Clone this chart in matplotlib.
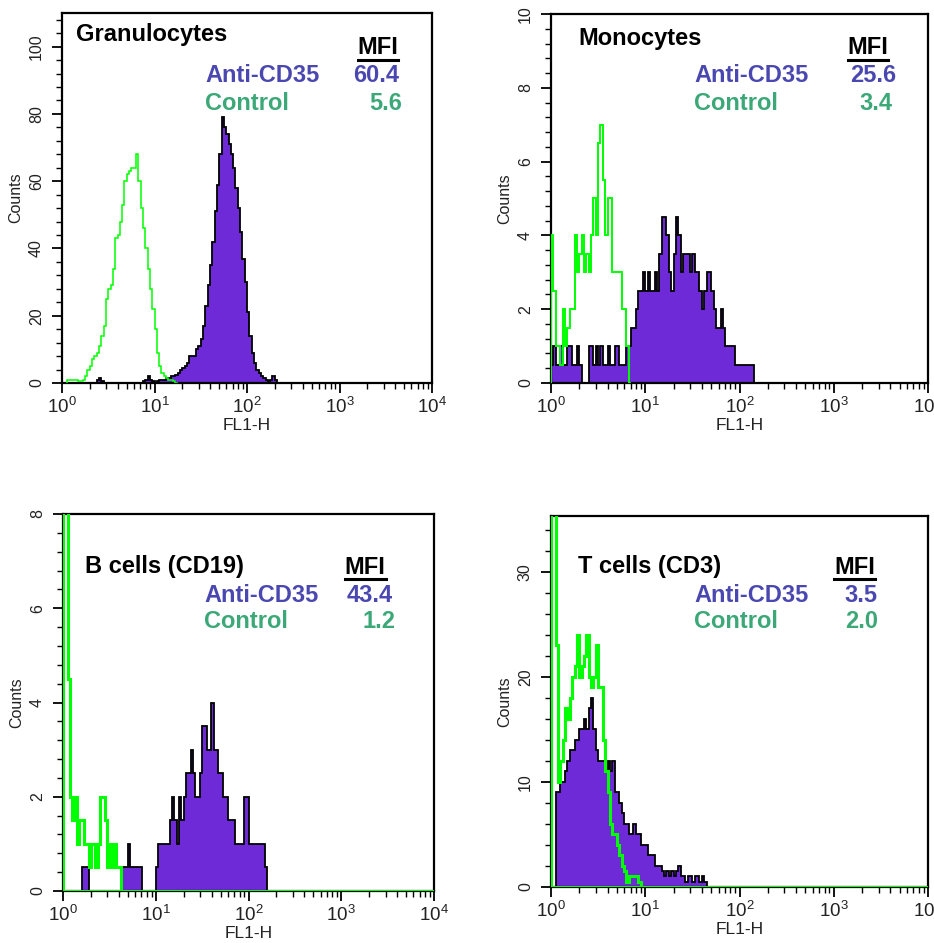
import numpy as np
import matplotlib.pyplot as plt
from matplotlib.lines import Line2D
from matplotlib.ticker import LogLocator, MultipleLocator, NullFormatter

plt.rcParams['font.family'] = ['Liberation Sans', 'DejaVu Sans']
plt.rcParams['mathtext.fontset'] = 'custom'
plt.rcParams['mathtext.rm'] = 'Liberation Sans'
plt.rcParams['mathtext.it'] = 'Liberation Sans'

STEP = 0.025  # channel width in decades of FL1-H

# Granulocytes
gran_ctrl_start = 0.05
gran_ctrl = [1, 1, 1, 1, 1, 0.5, 0.5, 1, 2, 4, 5, 7, 8, 9, 11, 14, 17, 25, 28, 29,
             34, 43, 44, 48, 53, 60, 62, 63, 64, 64, 68, 60, 52, 46, 40, 34, 28, 22, 16, 9,
             5, 3, 2, 1.5, 1, 1, 0.5, 0]
gran_cd35_start = 0.375
gran_cd35 = [1, 1.5, 0.5, 0, 0, 0, 0, 0, 0, 0, 0, 0, 0, 0, 0, 0, 0, 0, 0, 0,
             0.5, 1, 2, 1, 0.5, 0, 0.5, 1, 1, 1, 1.5, 1.5, 2, 2, 2.5, 3, 4, 4.5, 5, 6,
             8, 8, 8, 10, 11, 13, 17, 23, 29, 35, 42, 51, 59, 68, 79, 76, 74, 71, 68, 64,
             58, 52, 45, 37, 30, 21, 14, 9, 6, 4, 3, 2, 1.5, 1, 0.5, 1, 2, 1, 0]

# Monocytes
mono_ctrl_start = 0.0
mono_ctrl = [4, 2.5, 1, 1, 0.5, 2, 1, 1.5, 2, 2, 4, 3, 3.5, 4, 3, 3.5, 3, 4, 5, 4,
             6.5, 7, 5.5, 4, 5, 5, 3, 3, 3, 3, 2, 2, 1, 0]
mono_cd35_start = 0.0
mono_cd35 = [0.5, 1, 0.5, 0.5, 1, 0.5, 0.5, 1, 1, 0.5, 0.5, 1, 0.5, 0, 0, 0, 1, 1, 0.5, 1,
             0.5, 1, 0.5, 0.5, 1, 0.5, 0.5, 1, 1, 0.5, 0.5, 0.5, 1, 1, 1.5, 1.5, 2, 2.5, 2.5, 3,
             2.5, 3, 2.5, 2.5, 3, 2.5, 3.5, 4.5, 4.5, 4, 3, 2.5, 3.5, 4.5, 4, 3, 3.5, 3.5, 3.5, 3,
             3.5, 3, 3, 2.5, 2, 2.5, 3, 3, 2.5, 2, 1.5, 1.5, 2, 1.5, 1, 1, 1, 1, 0.5, 0.5,
             0.5, 0.5, 0.5, 0.5, 0.5, 0.5, 0]

# B cells (CD19)
bcell_ctrl_start = 0.0
bcell_ctrl = [12, 10, 4.5, 2, 1.5, 2, 1, 1.5, 1.5, 1, 1, 0.5, 1, 1, 0.5, 1, 2, 2, 1.5, 0.5,
              1, 0.5, 1, 0.5, 0.5, 0]
bcell_cd35_start = 0.2
bcell_cd35 = [0.5, 0.5, 0.5, 0, 0, 0, 0, 0, 0, 0, 0, 0, 0, 0, 0, 0, 0, 0.5, 0.5, 0.5,
              1, 0.5, 0.5, 0.5, 0.5, 0.5, 0, 0, 0, 0, 0, 0, 0.5, 1, 1, 1, 1, 1, 1.5, 2,
              1.5, 1, 2, 1.5, 2, 2.5, 2.5, 3, 2.5, 2, 2, 2.5, 3.5, 3.5, 3, 3, 4, 3, 3, 2.5,
              2.5, 2, 2, 1.5, 1.5, 1.5, 1, 1, 1, 1, 2, 2, 1, 1, 1, 1, 1, 1, 1, 0.5, 0]

# T cells (CD3)
tcell_ctrl_start = 0.0
tcell_ctrl = [40, 40, 23, 10, 12, 14, 17, 16, 18, 20, 21, 24, 20, 21, 22, 24, 20, 19, 20, 23,
              19, 19, 14, 11, 9, 6, 5, 5, 4, 3, 2, 1.5, 0.5, 1, 1, 1, 1, 0.5, 0]
tcell_cd35_start = 0.05
tcell_cd35 = [9, 9, 10, 10, 11, 12, 13, 13, 14, 14, 15, 15, 16, 15, 17, 18, 15, 13, 12, 12,
              12, 11, 12, 11, 12, 9, 9, 8, 7, 6, 6, 5, 5, 6, 5, 5, 4, 4, 4, 3,
              3, 3, 2, 2, 2, 1.5, 1, 1.5, 1, 1.5, 1, 1.5, 2, 1, 1, 0.5, 1, 1, 0.5, 1,
              1, 0.5, 1, 0.5, 0]

titles = ['Granulocytes', 'Monocytes', 'B cells (CD19)', 'T cells (CD3)']
mfi_cd35 = ['60.4', '25.6', '43.4', '3.5']
mfi_ctrl = ['5.6', '3.4', '1.2', '2.0']

FILL = '#6e2ad6'
LINE_GREEN = '#00ff00'
TXT_PURPLE = '#4a48b0'
TXT_GREEN = '#3ca878'

W, H = 934, 943
fig = plt.figure(figsize=(W / 100, H / 100), dpi=100)


def px_axes(l, t, r, b):
    return fig.add_axes([l / W, 1 - b / H, (r - l) / W, (b - t) / H])


def edges(start, counts):
    return 10 ** (start + STEP * np.arange(len(counts) + 1))


panels = [
    dict(box=(62, 13, 432, 383), ymax=110, major=20, minor=4,
         ctrl=(gran_ctrl_start, gran_ctrl), cd35=(gran_cd35_start, gran_cd35), glw=1.1, base=False),
    dict(box=(551, 14, 928, 383), ymax=10, major=2, minor=0.4,
         ctrl=(mono_ctrl_start, mono_ctrl), cd35=(mono_cd35_start, mono_cd35), glw=1.4, base=False),
    dict(box=(63, 514, 434, 891), ymax=8, major=2, minor=0.4,
         ctrl=(bcell_ctrl_start, bcell_ctrl), cd35=(bcell_cd35_start, bcell_cd35), glw=2.2, base=True),
    dict(box=(551, 516, 928, 887), ymax=35.3, major=10, minor=2,
         ctrl=(tcell_ctrl_start, tcell_ctrl), cd35=(tcell_cd35_start, tcell_cd35), glw=2.2, base=True),
]

for p in panels:
    ax = px_axes(*p['box'])
    s, c = p['cd35']
    e = edges(s, c)
    ax.stairs(c, e, fill=True, color=FILL, lw=0, zorder=2)
    ax.stairs(c, e, color='black', lw=1.3, zorder=3)
    s, c = p['ctrl']
    ax.stairs(c, edges(s, c), color=LINE_GREEN, lw=p['glw'], zorder=4)
    if p['base']:
        ax.axhline(0, color=LINE_GREEN, lw=2.2, zorder=5)

    ax.set_xscale('log')
    ax.set_xlim(1, 1e4)
    ax.set_ylim(0, p['ymax'])
    ax.set_xticks([1, 10, 100, 1000, 10000],
                  labels=['$10^{0}$', '$10^{1}$', '$10^{2}$', '$10^{3}$', '$10^{4}$'])
    ax.xaxis.set_minor_locator(LogLocator(base=10, subs=np.arange(2, 10)))
    ax.xaxis.set_minor_formatter(NullFormatter())
    ax.yaxis.set_major_locator(MultipleLocator(p['major']))
    ax.yaxis.set_minor_locator(MultipleLocator(p['minor']))
    ax.tick_params(axis='both', which='major', direction='out', length=7, width=1.3, color='black')
    ax.tick_params(axis='both', which='minor', direction='out', length=4, width=1.0, color='black')
    ax.tick_params(axis='x', which='major', labelsize=13.5, pad=3, labelcolor='#222222')
    ax.tick_params(axis='y', which='major', labelsize=11.5, pad=6, labelcolor='#222222')
    for lab in ax.get_yticklabels():
        lab.set_rotation(90)
        lab.set_va('center')
    for sp in ax.spines.values():
        sp.set_linewidth(1.6)
    ax.set_xlabel('FL1-H', fontsize=12.5, color='#222222', labelpad=1)
    ax.set_ylabel('Counts', fontsize=11.5, color='#222222', labelpad=4)

# annotation text, placed in figure pixels
text_pos = [
    dict(title=(76, 34), mfi=(378, 48, 358, 398, 60), cd35=(205, 75, 399), ctrl=(205, 103, 402)),
    dict(title=(578, 39), mfi=(868, 48, 848, 888, 60), cd35=(694, 75, 896), ctrl=(694, 103, 892)),
    dict(title=(85, 567), mfi=(365, 567, 345, 386, 579), cd35=(204, 595, 393), ctrl=(204, 622, 395)),
    dict(title=(578, 567), mfi=(855, 567, 834, 875, 579), cd35=(694, 595, 877), ctrl=(694, 622, 878)),
]


def ftext(x, y, s, **kw):
    fig.text(x / W, 1 - y / H, s, fontsize=17, fontweight='bold', va='center', **kw)


for i, tp in enumerate(text_pos):
    ftext(*tp['title'], titles[i], ha='left', color='black')
    mx, my, ul, ur, uy = tp['mfi']
    ftext(mx, my, 'MFI', ha='center', color='black')
    fig.add_artist(Line2D([ul / W, ur / W], [1 - uy / H, 1 - uy / H], color='black', lw=2.2))
    x0, y0, xr = tp['cd35']
    ftext(x0, y0, 'Anti-CD35', ha='left', color=TXT_PURPLE)
    ftext(xr, y0, mfi_cd35[i], ha='right', color=TXT_PURPLE)
    x0, y0, xr = tp['ctrl']
    ftext(x0, y0, 'Control', ha='left', color=TXT_GREEN)
    ftext(xr, y0, mfi_ctrl[i], ha='right', color=TXT_GREEN)

fig.savefig('out.png', dpi=100)
